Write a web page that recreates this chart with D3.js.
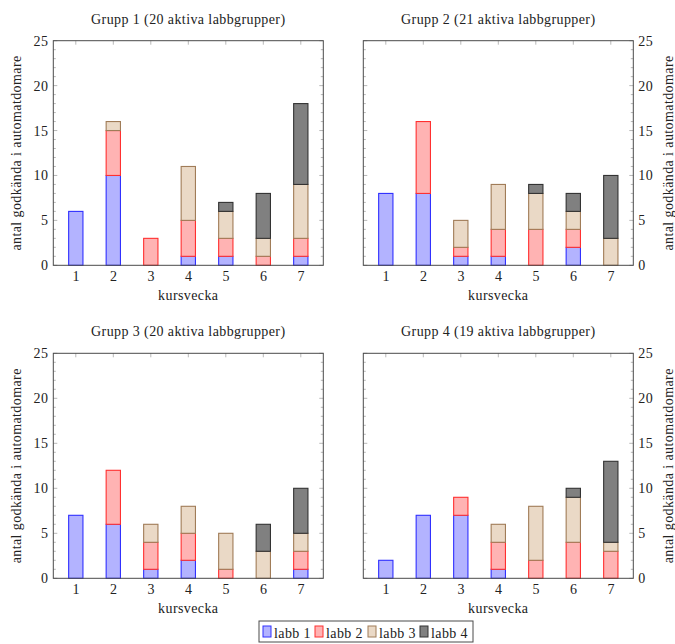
<!DOCTYPE html>
<html>
<head>
<meta charset="utf-8">
<script src="https://cdn.jsdelivr.net/npm/d3@7"></script>
<style>
  html, body { margin: 0; padding: 0; background: #fff; }
  svg text { font-family: "Liberation Serif", "DejaVu Serif", serif; fill: #222; }
  svg text.lbl { font-family: "Liberation Serif", serif; font-size: 14px; letter-spacing: 0.4px; }
</style>
</head>
<body>
<svg id="chart" width="675" height="644"></svg>
<script>
// Weeks of the course (x categories)
const weeks = [1, 2, 3, 4, 5, 6, 7];
const labs = ["labb 1", "labb 2", "labb 3", "labb 4"];
const yTicks = [0, 5, 10, 15, 20, 25];

const groupTitles = [
  "Grupp 1 (20 aktiva labbgrupper)",
  "Grupp 2 (21 aktiva labbgrupper)",
  "Grupp 3 (20 aktiva labbgrupper)",
  "Grupp 4 (19 aktiva labbgrupper)"
];

// Number of approved automata per week, one array per lab, per group
const grupp1Labb1 = [6, 10, 0, 1, 1, 0, 1];
const grupp1Labb2 = [0, 5, 3, 4, 2, 1, 2];
const grupp1Labb3 = [0, 1, 0, 6, 3, 2, 6];
const grupp1Labb4 = [0, 0, 0, 0, 1, 5, 9];

const grupp2Labb1 = [8, 8, 1, 1, 0, 2, 0];
const grupp2Labb2 = [0, 8, 1, 3, 4, 2, 0];
const grupp2Labb3 = [0, 0, 3, 5, 4, 2, 3];
const grupp2Labb4 = [0, 0, 0, 0, 1, 2, 7];

const grupp3Labb1 = [7, 6, 1, 2, 0, 0, 1];
const grupp3Labb2 = [0, 6, 3, 3, 1, 0, 2];
const grupp3Labb3 = [0, 0, 2, 3, 4, 3, 2];
const grupp3Labb4 = [0, 0, 0, 0, 0, 3, 5];

const grupp4Labb1 = [2, 7, 7, 1, 0, 0, 0];
const grupp4Labb2 = [0, 0, 2, 3, 2, 4, 3];
const grupp4Labb3 = [0, 0, 0, 2, 6, 5, 1];
const grupp4Labb4 = [0, 0, 0, 0, 0, 1, 9];

const groups = [
  [grupp1Labb1, grupp1Labb2, grupp1Labb3, grupp1Labb4],
  [grupp2Labb1, grupp2Labb2, grupp2Labb3, grupp2Labb4],
  [grupp3Labb1, grupp3Labb2, grupp3Labb3, grupp3Labb4],
  [grupp4Labb1, grupp4Labb2, grupp4Labb3, grupp4Labb4]
];

const fills = ["#b3b3ff", "#ffb3b3", "#ead9c6", "#808080"];
const strokes = ["#3030ff", "#ff3030", "#a07c58", "#333333"];

const svg = d3.select("#chart");
const axisColor = "#4a4a4a";

// Plot-area frames for the four panels
const panels = [
  { x0: 53.3, x1: 323.3, y0: 40.7, y1: 265.3, right: false },
  { x0: 363.3, x1: 633.3, y0: 40.7, y1: 265.3, right: true },
  { x0: 53.3, x1: 323.3, y0: 353.3, y1: 578.3, right: false },
  { x0: 363.3, x1: 633.3, y0: 353.3, y1: 578.3, right: true }
];

panels.forEach((p, gi) => {
  const x = d3.scaleLinear().domain([0.4, 7.6]).range([p.x0, p.x1]);
  const y = d3.scaleLinear().domain([0, 25]).range([p.y1, p.y0]);
  const g = svg.append("g");
  const barW = 14.3;

  // Stacked bars
  const series = groups[gi];
  const rows = weeks.map((w, i) => {
    const r = { week: w };
    labs.forEach((l, k) => { r[l] = series[k][i]; });
    return r;
  });
  const stacked = d3.stack().keys(labs)(rows);
  stacked.forEach((layer, k) => {
    g.append("g").selectAll("rect").data(layer).join("rect")
      .attr("x", d => x(d.data.week) - barW / 2)
      .attr("width", barW)
      .attr("y", d => y(d[1]))
      .attr("height", d => y(d[0]) - y(d[1]))
      .attr("fill", fills[k])
      .attr("stroke", strokes[k])
      .attr("stroke-width", 1.1);
  });

  // Minor y ticks (inside, both sides)
  const minor = d3.range(0, 26);
  g.append("g").selectAll("line").data(minor).join("line")
    .attr("x1", p.x0).attr("x2", d => p.x0 + (d % 5 === 0 ? 4 : 2.5))
    .attr("y1", d => y(d)).attr("y2", d => y(d))
    .attr("stroke", "#888").attr("stroke-width", 0.6);
  g.append("g").selectAll("line").data(minor).join("line")
    .attr("x1", p.x1).attr("x2", d => p.x1 - (d % 5 === 0 ? 4 : 2.5))
    .attr("y1", d => y(d)).attr("y2", d => y(d))
    .attr("stroke", "#888").attr("stroke-width", 0.6);
  // x ticks on top (inside)
  g.append("g").selectAll("line").data(weeks).join("line")
    .attr("x1", d => x(d)).attr("x2", d => x(d))
    .attr("y1", p.y0).attr("y2", p.y0 + 4)
    .attr("stroke", "#888").attr("stroke-width", 0.6);

  // Frame
  g.append("rect")
    .attr("x", p.x0).attr("y", p.y0)
    .attr("width", p.x1 - p.x0).attr("height", p.y1 - p.y0)
    .attr("fill", "none").attr("stroke", axisColor).attr("stroke-width", 1);

  // Bottom axis labels
  const xAxis = d3.axisBottom(x).tickValues(weeks).tickSize(0).tickPadding(6)
    .tickFormat(d3.format("d"));
  const xa = g.append("g").attr("transform", `translate(0,${p.y1})`).call(xAxis)
    .attr("font-family", null).attr("font-size", null);
  xa.select(".domain").remove();
  xa.selectAll("text").attr("class", "lbl").attr("fill", "#222");

  // Y axis labels
  const yAxis = (p.right ? d3.axisRight(y) : d3.axisLeft(y))
    .tickValues(yTicks).tickSize(0).tickPadding(5);
  const ya = g.append("g").attr("transform", `translate(${p.right ? p.x1 : p.x0},0)`).call(yAxis)
    .attr("font-family", null).attr("font-size", null);
  ya.select(".domain").remove();
  ya.selectAll("text").attr("class", "lbl").attr("fill", "#222");

  // Title
  g.append("text").attr("class", "lbl")
    .attr("x", (p.x0 + p.x1) / 2).attr("y", p.y0 - 17)
    .attr("text-anchor", "middle")
    .text(groupTitles[gi]);

  // X axis title
  g.append("text").attr("class", "lbl")
    .attr("x", (p.x0 + p.x1) / 2).attr("y", p.y1 + 35)
    .attr("text-anchor", "middle")
    .text("kursvecka");

  // Y axis title
  const yl = p.right ? p.x1 + 40 : p.x0 - 32;
  g.append("text").attr("class", "lbl")
    .attr("transform", `translate(${yl},${(p.y0 + p.y1) / 2}) rotate(-90)`)
    .attr("text-anchor", "middle")
    .text("antal godkända i automatdomare");
});

// Legend
const legend = svg.append("g");
legend.append("rect")
  .attr("x", 259).attr("y", 621).attr("width", 214).attr("height", 21)
  .attr("fill", "#fff").attr("stroke", axisColor).attr("stroke-width", 1);
const legendX = [263, 315, 368, 420];
labs.forEach((l, k) => {
  legend.append("rect")
    .attr("x", legendX[k]).attr("y", 626).attr("width", 8).attr("height", 11)
    .attr("fill", fills[k]).attr("stroke", strokes[k]).attr("stroke-width", 1);
  legend.append("text").attr("class", "lbl")
    .attr("x", legendX[k] + 11).attr("y", 637.5)
    .text(l);
});
</script>
</body>
</html>
